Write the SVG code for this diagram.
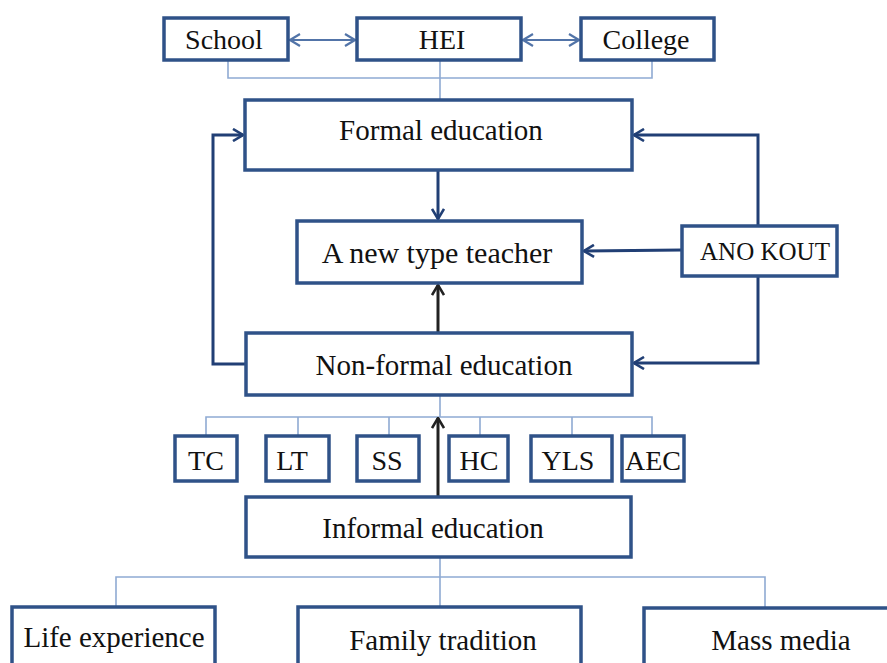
<svg xmlns="http://www.w3.org/2000/svg" width="887" height="663" viewBox="0 0 887 663">
<defs>
<style>
.box{fill:#fff;stroke:#2F5288;stroke-width:3.5}
.t{font-family:"Liberation Serif","Times New Roman",serif;font-size:29px;fill:#111;text-anchor:middle}
.s28{font-size:28px}
.s30{font-size:30px}
.sm{font-size:25px}
.br{fill:none;stroke:#8FAAD3;stroke-width:1.6}
.lb{fill:none;stroke:#5274A8;stroke-width:2.2}
.nv{fill:none;stroke:#213F75;stroke-width:3}
.bk{fill:none;stroke:#222;stroke-width:3}
</style>
<marker id="ab" viewBox="0 0 12 14" refX="11" refY="7" markerWidth="12" markerHeight="14" markerUnits="userSpaceOnUse" orient="auto-start-reverse">
<path d="M1,1 L11,7 L1,13" fill="none" stroke="#5274A8" stroke-width="2.2"/>
</marker>
<marker id="an" viewBox="0 0 12 14" refX="11" refY="7" markerWidth="12" markerHeight="14" markerUnits="userSpaceOnUse" orient="auto">
<path d="M1,1 L11,7 L1,13" fill="none" stroke="#213F75" stroke-width="2.6"/>
</marker>
<marker id="ak" viewBox="0 0 12 14" refX="11" refY="7" markerWidth="12" markerHeight="14" markerUnits="userSpaceOnUse" orient="auto">
<path d="M1,1 L11,7 L1,13" fill="none" stroke="#222" stroke-width="2.6"/>
</marker>
</defs>
<rect width="887" height="663" fill="#fff"/>
<g id="connectors">
<path class="br" d="M228,60 V78 H652 V60 M440,60 V100"/>
<path class="lb" d="M290,40 H355" marker-start="url(#ab)" marker-end="url(#ab)"/>
<path class="lb" d="M523,40 H579" marker-start="url(#ab)" marker-end="url(#ab)"/>
<path class="nv" d="M438,170 V219" marker-end="url(#an)"/>
<path class="nv" d="M758,226 V135 H634" marker-end="url(#an)"/>
<path class="nv" d="M682,250 L584,251" marker-end="url(#an)"/>
<path class="nv" d="M758,276 V363 H634" marker-end="url(#an)"/>
<path class="nv" d="M246,364 H213 V135 H243" marker-end="url(#an)"/>
<path class="bk" d="M438,333 V285" marker-end="url(#ak)"/>
<path class="br" d="M440,395 V417 M206,436 V417 H652 V436 M298,417 V436 M389,417 V436 M480,417 V436 M572,417 V436"/>
<path class="bk" d="M438,497 V418" marker-end="url(#ak)"/>
<path class="br" d="M440,557 V577 M116,607 V577 H765 V607 M440,577 V607"/>
</g>
<g id="school"><rect class="box" x="164" y="18" width="124" height="42"/><text class="t s28" x="224" y="49">School</text></g>
<g id="hei"><rect class="box" x="357" y="18" width="164" height="42"/><text class="t s28" x="442" y="49">HEI</text></g>
<g id="college"><rect class="box" x="581" y="18" width="133" height="42"/><text class="t s28" x="646" y="49">College</text></g>
<g id="formal"><rect class="box" x="245" y="100" width="387" height="70"/><text class="t" x="441" y="140">Formal education</text></g>
<g id="teacher"><rect class="box" x="297" y="221" width="285" height="62"/><text class="t s30" x="437" y="263">A new type teacher</text></g>
<g id="anokout"><rect class="box" x="682" y="226" width="155" height="50"/><text class="t sm" x="765" y="260">ANO KOUT</text></g>
<g id="nonformal"><rect class="box" x="246" y="333" width="386" height="62"/><text class="t" x="444" y="375">Non-formal education</text></g>
<g id="tc"><rect class="box" x="175" y="436" width="62" height="45"/><text class="t s28" x="206" y="470">TC</text></g>
<g id="lt"><rect class="box" x="266" y="436" width="63" height="45"/><text class="t s28" x="292" y="470">LT</text></g>
<g id="ss"><rect class="box" x="357" y="436" width="62" height="45"/><text class="t s28" x="387" y="470">SS</text></g>
<g id="hc"><rect class="box" x="449" y="436" width="59" height="45"/><text class="t s28" x="479" y="470">HC</text></g>
<g id="yls"><rect class="box" x="531" y="436" width="81" height="45"/><text class="t s28" x="568" y="470">YLS</text></g>
<g id="aec"><rect class="box" x="622" y="436" width="62" height="45"/><text class="t s28" x="653" y="470">AEC</text></g>
<g id="informal"><rect class="box" x="246" y="497" width="385" height="60"/><text class="t" x="433" y="538">Informal education</text></g>
<g id="life"><rect class="box" x="12" y="607" width="203" height="80"/><text class="t" x="114" y="647">Life experience</text></g>
<g id="family"><rect class="box" x="298" y="607" width="283" height="80"/><text class="t" x="443" y="650">Family tradition</text></g>
<g id="mass"><rect class="box" x="644" y="608" width="260" height="80"/><text class="t" x="781" y="650">Mass media</text></g>
</svg>
